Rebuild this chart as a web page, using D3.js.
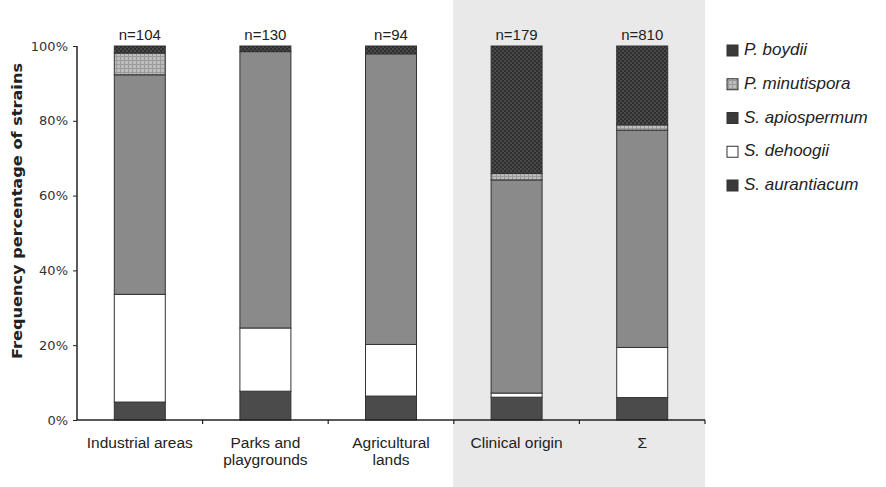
<!DOCTYPE html>
<html><head><meta charset="utf-8">
<script src="https://cdn.jsdelivr.net/npm/d3@7/dist/d3.min.js"></script>
<style>body{margin:0;background:#fff}svg{display:block}</style>
</head><body><svg id="c" width="886" height="487"></svg>
<script>
const categories = ["Industrial areas", "Parks and playgrounds", "Agricultural lands", "Clinical origin", "Σ"];
const categoryLines = [["Industrial areas"], ["Parks and", "playgrounds"], ["Agricultural", "lands"], ["Clinical origin"], ["Σ"]];
const nLabels = ["n=104", "n=130", "n=94", "n=179", "n=810"];
const species = ["S. aurantiacum", "S. dehoogii", "S. apiospermum", "P. minutispora", "P. boydii"];
const aurantiacum = [4.8, 7.7, 6.4, 6.1, 6.0];
const dehoogii = [28.8, 16.9, 13.8, 1.1, 13.4];
const apiospermum = [58.7, 73.9, 77.7, 57.0, 58.1];
const minutispora = [5.8, 0, 0, 1.7, 1.4];
const boydii = [1.9, 1.5, 2.1, 34.1, 21.1];
const yTicks = [0, 20, 40, 60, 80, 100];
const legendOrder = ["P. boydii", "P. minutispora", "S. apiospermum", "S. dehoogii", "S. aurantiacum"];

const svg = d3.select("#c");
const font = "'Liberation Sans', Arial, sans-serif";
const font2 = "'DejaVu Sans', Verdana, sans-serif";
const defs = svg.append("defs");
const pb = defs.append("pattern").attr("id","pBoydii").attr("patternUnits","userSpaceOnUse").attr("width",4).attr("height",4);
pb.append("rect").attr("width",4).attr("height",4).attr("fill","#2e2e2e");
pb.append("rect").attr("x",0).attr("y",0).attr("width",2).attr("height",2).attr("fill","#4a4a4a");
pb.append("rect").attr("x",2).attr("y",2).attr("width",2).attr("height",2).attr("fill","#4a4a4a");
const pm = defs.append("pattern").attr("id","pMinut").attr("patternUnits","userSpaceOnUse").attr("width",4).attr("height",4);
pm.append("rect").attr("width",4).attr("height",4).attr("fill","#bdbdbd");
pm.append("rect").attr("x",0).attr("y",0).attr("width",1).attr("height",4).attr("fill","#9a9a9a");
pm.append("rect").attr("x",0).attr("y",0).attr("width",4).attr("height",1).attr("fill","#9a9a9a");

const fills = {"S. aurantiacum":"#4b4b4b","S. dehoogii":"#ffffff","S. apiospermum":"#8a8a8a","P. minutispora":"url(#pMinut)","P. boydii":"url(#pBoydii)"};
const legendFills = {"S. aurantiacum":"#3a3a3a","S. dehoogii":"#ffffff","S. apiospermum":"#3a3a3a","P. minutispora":"url(#pMinut)","P. boydii":"#3a3a3a"};

svg.append("rect").attr("x",453).attr("y",0).attr("width",252).attr("height",487).attr("fill","#e9e9e9");

const x = d3.scaleBand().domain(categories).range([77,705]).paddingInner(0.594).paddingOuter(0.297);
const y = d3.scaleLinear().domain([0,100]).range([420,46]);

const table = categories.map((c,i)=>({cat:c, "S. aurantiacum":aurantiacum[i], "S. dehoogii":dehoogii[i], "S. apiospermum":apiospermum[i], "P. minutispora":minutispora[i], "P. boydii":boydii[i]}));
const stack = d3.stack().keys(species)(table);

const g = svg.append("g");
stack.forEach(layer=>{
  g.selectAll(null).data(layer).enter().append("rect")
    .attr("x", d=>x(d.data.cat))
    .attr("width", x.bandwidth())
    .attr("y", d=>y(Math.min(d[1],100)))
    .attr("height", d=>Math.max(0, y(d[0]) - y(Math.min(d[1],100))))
    .attr("fill", fills[layer.key])
    .attr("stroke", "#333").attr("stroke-width", 1);
});

const yAxis = svg.append("g").attr("transform","translate(77,0)")
  .call(d3.axisLeft(y).tickValues(yTicks).tickFormat(d=>d+"%").tickSize(4).tickPadding(5));
yAxis.select(".domain").attr("stroke","#222").attr("stroke-width",1.5).attr("d","M0,46V420");
yAxis.selectAll("line").attr("stroke","#222");
yAxis.selectAll("text").attr("font-family",font2).attr("font-size",13).attr("fill","#333");

svg.append("line").attr("x1",77).attr("x2",705).attr("y1",420).attr("y2",420).attr("stroke","#222").attr("stroke-width",1.5);
const step = x.step();
const bounds = categories.slice(1).map(c=>x(c)+x.bandwidth()/2-step/2).concat([705]);
svg.selectAll(null).data(bounds).enter().append("line")
  .attr("x1",d=>d).attr("x2",d=>d).attr("y1",420).attr("y2",424).attr("stroke","#222").attr("stroke-width",1.2);

categories.forEach((c,i)=>{
  const t = svg.append("text").attr("x", x(c)+x.bandwidth()/2).attr("y", 448)
    .attr("text-anchor","middle").attr("font-family",font).attr("font-size",15.5).attr("fill","#222");
  categoryLines[i].forEach((ln,j)=>{
    t.append("tspan").attr("x", x(c)+x.bandwidth()/2).attr("dy", j===0?0:17).text(ln);
  });
});

svg.selectAll(null).data(categories).enter().append("text")
  .attr("x", c=>x(c)+x.bandwidth()/2).attr("y", 40)
  .attr("text-anchor","middle").attr("font-family",font).attr("font-size",15).attr("fill","#222")
  .text((c,i)=>nLabels[i]);

svg.append("text").attr("transform","translate(22,211) rotate(-90)")
  .attr("x",-148).attr("textLength",296).attr("lengthAdjust","spacingAndGlyphs")
  .attr("font-family",font2).attr("font-size",14).attr("font-weight","bold").attr("fill","#222")
  .text("Frequency percentage of strains");

const lg = svg.append("g");
legendOrder.forEach((s,i)=>{
  const base = 55 + i*33.75;
  lg.append("rect").attr("x",727).attr("y",base-10).attr("width",11).attr("height",11)
    .attr("fill",legendFills[s]).attr("stroke","#333").attr("stroke-width",1);
  lg.append("text").attr("x",744).attr("y",base).attr("font-family",font).attr("font-size",17)
    .attr("font-style","italic").attr("fill","#222").text(s);
});
</script></body></html>
